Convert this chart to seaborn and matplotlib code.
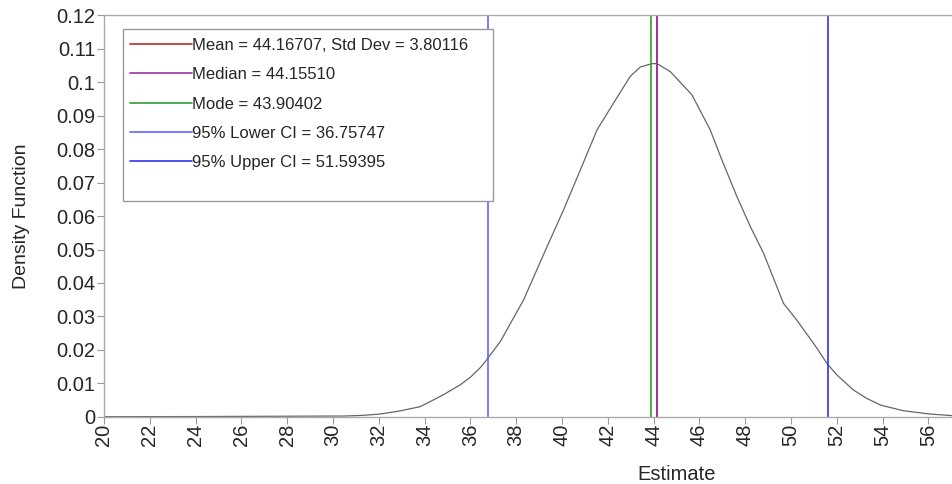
import numpy as np
import pandas as pd
import matplotlib
matplotlib.use("Agg")
import matplotlib.pyplot as plt
from matplotlib.patches import Rectangle
from matplotlib.ticker import FuncFormatter
import seaborn as sns

# density curve
estimate = [20, 24, 26, 28, 30, 30.45, 31.3, 32.05, 32.9, 33.8, 34.1, 34.8, 35.55,
            36.0, 36.45, 36.65, 37.3, 38.32, 39.35, 40.07, 40.8, 41.53, 42.25,
            42.98, 43.42, 43.93, 44.15, 44.73, 45.67, 46.47, 46.98, 47.64, 48.22,
            48.8, 49.67, 50.25, 51.13, 51.56, 52.0, 52.72, 53.3, 53.9, 54.9,
            56.07, 57.1]
density = [0.0, 0.00005, 0.0001, 0.00015, 0.0002, 0.0002, 0.0004, 0.0008,
           0.0017, 0.003, 0.004, 0.0065, 0.0095, 0.0118, 0.0148, 0.0165, 0.0224,
           0.0349, 0.0509, 0.0619, 0.0738, 0.0858, 0.0938, 0.1018, 0.1046,
           0.1056, 0.1056, 0.1032, 0.0963, 0.0858, 0.0768, 0.0658, 0.0569,
           0.0489, 0.0339, 0.0289, 0.0205, 0.016, 0.0125, 0.008, 0.0055,
           0.0035, 0.0018, 0.0008, 0.0003]

# summary statistics (vertical lines)
stat_labels = ["Mean = 44.16707, Std Dev = 3.80116", "Median = 44.15510",
               "Mode = 43.90402", "95% Lower CI = 36.75747", "95% Upper CI = 51.59395"]
stat_values = [44.16707, 44.15510, 43.90402, 36.75747, 51.59395]
stat_colors = ["#B03030", "#A030A8", "#30A030", "#6464FF", "#3232F0"]

df = pd.DataFrame({"Estimate": estimate, "Density": density})

sns.set_style("white")
plt.rcParams["font.family"] = ["Liberation Sans", "DejaVu Sans"]

fig = plt.figure(figsize=(9.53, 4.84), dpi=100)
ax = fig.add_axes([0.109, 0.139, 0.891, 0.829])

sns.lineplot(data=df, x="Estimate", y="Density", color="#666666", linewidth=0.9,
             ax=ax, legend=False)

for lab, val, col in zip(stat_labels, stat_values, stat_colors):
    ax.axvline(val, color=col, linewidth=1.2, label=lab)

ax.set_xlim(20, 57.07)
ax.set_ylim(0, 0.12)
ax.set_xticks(np.arange(20, 57, 2))
ax.set_yticks(np.arange(0, 0.121, 0.01))
ax.yaxis.set_major_formatter(FuncFormatter(lambda v, p: "%g" % round(v, 2)))
ax.tick_params(axis="x", labelrotation=90, labelsize=14.5, length=5, color="#999999",
               direction="out", bottom=True, pad=0)
ax.tick_params(axis="y", labelsize=14.5, length=5, color="#999999", direction="out",
               left=True, pad=1)

for s in ["top", "left", "bottom"]:
    ax.spines[s].set_color("#aaaaaa")
    ax.spines[s].set_linewidth(1)
ax.spines["right"].set_visible(False)

ax.set_xlabel("Estimate", fontsize=14.5)
ax.set_ylabel("Density Function", fontsize=14)
ax.xaxis.set_label_coords(0.674, -0.12)
ax.yaxis.set_label_coords(-0.087, 0.5)

# legend box drawn separately so it can be taller than the entries
box = Rectangle((0.0224, 0.538), 0.4358, 0.429, transform=ax.transAxes,
                facecolor="white", edgecolor="#999999", linewidth=1, zorder=4)
ax.add_patch(box)

leg = ax.legend(loc="upper left", bbox_to_anchor=(0.0306, 0.944), borderaxespad=0,
                borderpad=0, fontsize=12, handlelength=3.7, handletextpad=0.05,
                labelspacing=0.86, frameon=False)
leg.set_zorder(5)

fig.savefig("out.png", dpi=100)
